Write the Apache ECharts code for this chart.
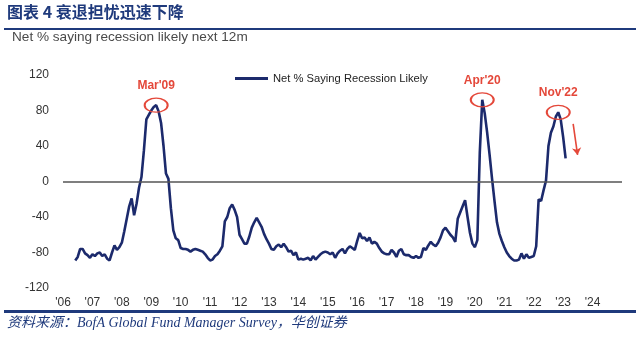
<!DOCTYPE html>
<html><head><meta charset="utf-8">
<script src="https://cdn.jsdelivr.net/npm/echarts@6/dist/echarts.min.js"></script>
<style>html,body{margin:0;padding:0;background:#fff}#c{width:640px;height:339px}</style>
</head><body><div id="c"></div>
<script>
const titleText = '图表 4 衰退担忧迅速下降';
const subtitleText = 'Net % saying recession likely next 12m';
const sourceText = '资料来源：BofA Global Fund Manager Survey，华创证券';
const seriesName = 'Net % Saying Recession Likely';
const yMin = -120, yMax = 120, yStep = 40;
const xFirstYear = 2006, xLastYear = 2024;
const startYear = 2006, startMonth = 6;
const netRecession = [
  -89,-85,-76,-76,-81,-83,-86,
  -82,-84,-81,-80,-84,-82,-87,-89,-80,-72,-77,-74,
  -69,-56,-42,-28,-19,-38,-25,-7,5,35,70,75,
  80,84,86,79,66,40,9,3,-30,-55,-64,-66,
  -75,-76,-76,-77,-79,-77,-76,-77,-78,-79,-82,-86,
  -89,-88,-84,-82,-78,-73,-45,-40,-30,-26,-32,-40,
  -60,-65,-70,-70,-62,-52,-46,-41,-46,-51,-59,-65,
  -70,-76,-77,-73,-71,-74,-70,-74,-79,-78,-83,-80,
  -88,-87,-88,-87,-86,-89,-84,-88,-85,-82,-80,-79,
  -80,-82,-80,-86,-81,-78,-76,-81,-76,-73,-75,-77,
  -67,-58,-64,-63,-67,-63,-70,-68,-70,-75,-79,-81,
  -82,-82,-77,-80,-85,-78,-76,-82,-83,-83,-85,-86,
  -84,-86,-85,-75,-77,-72,-68,-71,-73,-69,-63,-55,
  -52,-56,-60,-63,-68,-42,-35,-28,-21,-40,-58,-70,
  -74,-66,33,92,77,55,30,3,-22,-46,-59,-67,
  -74,-80,-84,-87,-89,-89,-88,-81,-87,-82,-86,-85,
  -84,-73,-20,-22,-10,1,40,55,62,73,78,70,
  50,26
];
const annoLabels = ["Mar'09", "Apr'20", "Nov'22"];
const annoMonths = [[2009, 3], [2020, 4], [2022, 11]];
const arrowFrom = [2023.34, 65];
const arrowTo = [2023.49, 30];

const navy = '#1c2a6c';
const red = '#e4483a';
const blue = '#1f3a7c';

function monthX(y, m) { return y + (m - 1) / 12; }
const lineData = netRecession.map((v, i) => {
  const mi = (startMonth - 1) + i;
  return [startYear + mi / 12, v];
});
const ellipsePath = 'path://M0,10 A10,10 0 1,1 20,10 A10,10 0 1,1 0,10 Z';
const annoPoints = annoLabels.map((lab, k) => {
  const [y, m] = annoMonths[k];
  const idx = (y - startYear) * 12 + (m - startMonth);
  return {
    coord: [monthX(y, m), netRecession[idx]],
    symbol: ellipsePath,
    symbolSize: [23, 14],
    itemStyle: { color: 'rgba(0,0,0,0)', borderColor: red, borderWidth: 1.6 },
    label: {
      show: true, position: 'top', distance: 6, formatter: lab,
      color: red, fontWeight: 'bold', fontSize: 12, fontFamily: 'Liberation Sans, Arial, sans-serif'
    }
  };
});

const chart = echarts.init(document.getElementById('c'), null, { renderer: 'canvas' });
chart.setOption({
  animation: false,
  backgroundColor: '#fff',
  grid: { left: 63, right: 18, top: 75, bottom: 51, containLabel: false },
  legend: {
    show: true, left: 230, top: 68, itemWidth: 33, itemHeight: 3, itemGap: 10,
    icon: 'rect',
    textStyle: { color: '#222', fontSize: 11.2, fontFamily: 'Liberation Sans, Arial, sans-serif' },
    data: [seriesName]
  },
  xAxis: {
    type: 'value', min: xFirstYear, max: xLastYear + 1, interval: 1,
    axisLine: { show: false }, axisTick: { show: false }, splitLine: { show: false },
    axisLabel: {
      margin: 9, color: '#333', fontSize: 12, fontFamily: 'Liberation Sans, Arial, sans-serif',
      formatter: v => (v >= xFirstYear && v <= xLastYear) ? "'" + String(v).slice(2) : ''
    }
  },
  yAxis: {
    type: 'value', min: yMin, max: yMax, interval: yStep,
    axisLine: { show: false }, axisTick: { show: false }, splitLine: { show: false },
    axisLabel: { margin: 14, color: '#333', fontSize: 12, fontFamily: 'Liberation Sans, Arial, sans-serif' }
  },
  series: [{
    name: seriesName, type: 'line', data: lineData, showSymbol: false, symbol: 'none',
    lineStyle: { color: navy, width: 2.6 }, itemStyle: { color: navy },
    emphasis: { disabled: true }, silent: true,
    markLine: {
      silent: true, symbol: ['none', 'none'], label: { show: false },
      data: [
        { yAxis: 0, lineStyle: { color: '#555', width: 1.5, type: 'solid' } },
        [
          { coord: arrowFrom, symbol: 'none', lineStyle: { color: red, width: 1.6, type: 'solid' } },
          { coord: arrowTo, symbol: 'arrow', symbolSize: 7 }
        ]
      ]
    },
    markPoint: { silent: true, data: annoPoints }
  }],
  graphic: [
    { type: 'text', left: 7, top: 4, style: { text: titleText, fill: blue, font: 'bold 16px "Noto Sans CJK SC", sans-serif' } },
    { type: 'rect', shape: { x: 4, y: 28, width: 632, height: 2 }, style: { fill: blue } },
    { type: 'text', left: 12, top: 30, style: { text: subtitleText, fill: '#4a4a4a', font: '13.6px "Liberation Sans", Arial, sans-serif' } },
    { type: 'rect', shape: { x: 4, y: 310, width: 632, height: 3 }, style: { fill: blue } },
    { type: 'text', left: 7, top: 316, style: { text: sourceText, fill: blue, font: 'italic 14px "Liberation Serif", "Noto Sans CJK SC", serif' } }
  ]
});
</script></body></html>
